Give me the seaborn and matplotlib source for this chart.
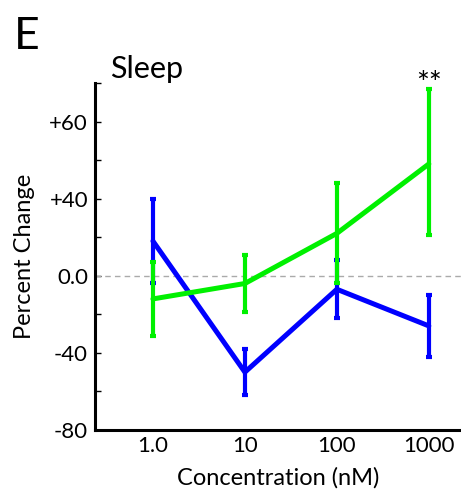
import matplotlib
matplotlib.use("Agg")
import matplotlib.pyplot as plt
import seaborn as sns
import pandas as pd

# values (percent change, per concentration)
conc_labels = ["1.0", "10", "100", "1000"]
conc_pos = [0, 1, 2, 3]

blue_mean = [18, -50, -7, -26]
blue_low = [-4, -62, -22, -42]
blue_high = [40, -38, 8, -10]

green_mean = [-12, -4, 22, 58]
green_low = [-31, -19, -4, 21]
green_high = [7, 11, 48, 97]

ytick_pos = [-80, -40, 0, 40, 80]
ytick_labels = ["-80", "-40", "0.0", "+40", "+60"]
yminor_pos = [-60, -20, 20, 60, 100]


def long_form(name, low, mean, high):
    # three rows per point: median gives the mean, min/max give the bar ends
    rows = []
    for x, lo, m, hi in zip(conc_pos, low, mean, high):
        for v in (lo, m, hi):
            rows.append({"series": name, "conc": x, "value": v})
    return rows


df = pd.DataFrame(long_form("blue", blue_low, blue_mean, blue_high)
                  + long_form("green", green_low, green_mean, green_high))

sns.set_style("ticks")
plt.rcParams["font.family"] = ["Lato", "DejaVu Sans"]
plt.rcParams["text.color"] = "black"
plt.rcParams["axes.labelcolor"] = "black"
plt.rcParams["xtick.color"] = "black"
plt.rcParams["ytick.color"] = "black"
plt.rcParams["axes.edgecolor"] = "black"

fig = plt.figure(figsize=(4.61, 4.97), dpi=100)
ax = fig.add_axes([95 / 461, 67 / 497, 366 / 461, 347 / 497])

ax.axhline(0, color="#aaaaaa", lw=1, ls=(0, (4, 3)), zorder=1)

sns.lineplot(data=df, x="conc", y="value", hue="series",
             hue_order=["blue", "green"],
             palette={"blue": "#0000ff", "green": "#00f000"},
             estimator="median", errorbar=("pi", 100), err_style="bars",
             err_kws=dict(capsize=2.2, capthick=3, elinewidth=3),
             linewidth=3.6, legend=False, ax=ax)

ax.set_xlim(-0.63, 3.35)
ax.set_ylim(-80, 100)
ax.set_xticks(conc_pos)
ax.set_xticklabels(conc_labels, fontsize=16)
ax.set_yticks(ytick_pos)
ax.set_yticklabels(ytick_labels, fontsize=16)
ax.set_yticks(yminor_pos, minor=True)
ax.tick_params(axis="y", which="both", direction="in", length=4, width=1, pad=5)
ax.tick_params(axis="x", length=0, pad=4)

sns.despine(ax=ax)
for side in ("left", "bottom"):
    ax.spines[side].set_linewidth(2.2)

ax.set_xlabel("Concentration (nM)", fontsize=17, labelpad=8)
ax.set_ylabel("Percent Change", fontsize=17, labelpad=10)

ax.text(0.04, 1.014, "Sleep", transform=ax.transAxes, fontsize=22,
        ha="left", va="baseline")
ax.text(conc_pos[3], green_high[3] - 5, "**", fontsize=22,
        ha="center", va="bottom", clip_on=False)
fig.text(14 / 461, 1 - 49 / 497, "E", fontsize=32, ha="left", va="baseline")

fig.savefig("out.png", dpi=100)
